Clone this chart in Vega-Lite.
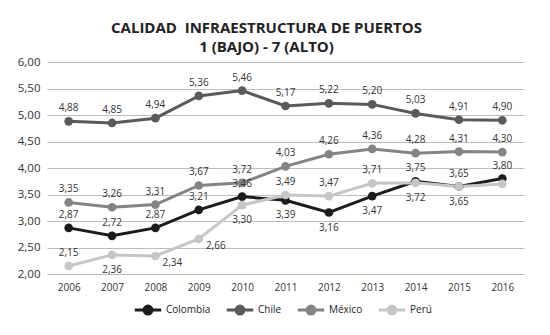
{
  "$schema": "https://vega.github.io/schema/vega-lite/v6.json",
  "width": 477,
  "height": 212,
  "autosize": "none",
  "padding": {"left": 47, "top": 62, "right": 26, "bottom": 61},
  "background": "white",
  "config": {
    "font": "Open Sans",
    "view": {"stroke": null},
    "locale": {"number": {"decimal": ",", "thousands": ".", "grouping": [3], "currency": ["", ""]}}
  },
  "title": {
    "text": ["CALIDAD\u00a0\u00a0INFRAESTRUCTURA DE PUERTOS", "1 (BAJO) - 7 (ALTO)"],
    "fontSize": 15,
    "fontWeight": "bold",
    "color": "#222222",
    "anchor": "middle",
    "frame": "group",
    "dx": -19,
    "offset": 1,
    "lineHeight": 19
  },
  "data": {
    "values": [
      {"pais": "Colombia", "anio": "2006", "valor": 2.87},
      {"pais": "Colombia", "anio": "2007", "valor": 2.72},
      {"pais": "Colombia", "anio": "2008", "valor": 2.87},
      {"pais": "Colombia", "anio": "2009", "valor": 3.21},
      {"pais": "Colombia", "anio": "2010", "valor": 3.46},
      {"pais": "Colombia", "anio": "2011", "valor": 3.39},
      {"pais": "Colombia", "anio": "2012", "valor": 3.16},
      {"pais": "Colombia", "anio": "2013", "valor": 3.47},
      {"pais": "Colombia", "anio": "2014", "valor": 3.75},
      {"pais": "Colombia", "anio": "2015", "valor": 3.65},
      {"pais": "Colombia", "anio": "2016", "valor": 3.80},
      {"pais": "Chile", "anio": "2006", "valor": 4.88},
      {"pais": "Chile", "anio": "2007", "valor": 4.85},
      {"pais": "Chile", "anio": "2008", "valor": 4.94},
      {"pais": "Chile", "anio": "2009", "valor": 5.36},
      {"pais": "Chile", "anio": "2010", "valor": 5.46},
      {"pais": "Chile", "anio": "2011", "valor": 5.17},
      {"pais": "Chile", "anio": "2012", "valor": 5.22},
      {"pais": "Chile", "anio": "2013", "valor": 5.20},
      {"pais": "Chile", "anio": "2014", "valor": 5.03},
      {"pais": "Chile", "anio": "2015", "valor": 4.91},
      {"pais": "Chile", "anio": "2016", "valor": 4.90},
      {"pais": "México", "anio": "2006", "valor": 3.35},
      {"pais": "México", "anio": "2007", "valor": 3.26},
      {"pais": "México", "anio": "2008", "valor": 3.31},
      {"pais": "México", "anio": "2009", "valor": 3.67},
      {"pais": "México", "anio": "2010", "valor": 3.72},
      {"pais": "México", "anio": "2011", "valor": 4.03},
      {"pais": "México", "anio": "2012", "valor": 4.26},
      {"pais": "México", "anio": "2013", "valor": 4.36},
      {"pais": "México", "anio": "2014", "valor": 4.28},
      {"pais": "México", "anio": "2015", "valor": 4.31},
      {"pais": "México", "anio": "2016", "valor": 4.30},
      {"pais": "Perú", "anio": "2006", "valor": 2.15},
      {"pais": "Perú", "anio": "2007", "valor": 2.36},
      {"pais": "Perú", "anio": "2008", "valor": 2.34},
      {"pais": "Perú", "anio": "2009", "valor": 2.66},
      {"pais": "Perú", "anio": "2010", "valor": 3.30},
      {"pais": "Perú", "anio": "2011", "valor": 3.49},
      {"pais": "Perú", "anio": "2012", "valor": 3.47},
      {"pais": "Perú", "anio": "2013", "valor": 3.71},
      {"pais": "Perú", "anio": "2014", "valor": 3.72},
      {"pais": "Perú", "anio": "2015", "valor": 3.65},
      {"pais": "Perú", "anio": "2016", "valor": 3.70}
    ]
  },
  "encoding": {
    "x": {
      "field": "anio",
      "type": "ordinal",
      "scale": {"type": "point", "padding": 0.5},
      "axis": {
        "title": null,
        "labelAngle": 0,
        "ticks": false,
        "domain": false,
        "grid": false,
        "labelFontSize": 10,
        "labelColor": "#333333",
        "labelPadding": 8
      }
    },
    "y": {
      "field": "valor",
      "type": "quantitative",
      "scale": {"domain": [2, 6], "nice": false, "zero": false},
      "axis": {
        "title": null,
        "values": [2, 2.5, 3, 3.5, 4, 4.5, 5, 5.5, 6],
        "format": ".2f",
        "ticks": false,
        "domain": false,
        "gridColor": "#bdbdbd",
        "gridWidth": 1.2,
        "labelFontSize": 11.5,
        "labelColor": "#333333",
        "labelPadding": 7
      }
    }
  },
  "layer": [
    {
      "mark": {"type": "line", "strokeWidth": 3, "point": {"filled": true, "size": 75, "opacity": 1}},
      "encoding": {
        "color": {
          "field": "pais",
          "type": "nominal",
          "scale": {
            "domain": ["Colombia", "Chile", "México", "Perú"],
            "range": ["#1c1c1c", "#5a5a5a", "#848484", "#c6c6c6"]
          },
          "legend": {
            "title": null,
            "orient": "none",
            "direction": "horizontal",
            "legendX": 86,
            "legendY": 233,
            "symbolType": "M-1,0H1M0.3,0A0.3,0.3,0,1,1,-0.3,0A0.3,0.3,0,1,1,0.3,0Z",
            "symbolSize": 700,
            "symbolStrokeWidth": 3,
            "labelFontSize": 10,
            "labelColor": "#222222",
            "labelOffset": 3,
            "columnPadding": 9,
            "encode": {
              "symbols": {
                "update": {
                  "fill": {"scale": "color", "field": "value"},
                  "stroke": {"scale": "color", "field": "value"},
                  "opacity": {"value": 1}
                }
              }
            }
          }
        }
      }
    },
    {
      "transform": [
        {"filter": "!((datum.pais == 'Colombia' && indexof(['2011','2012','2013'], datum.anio) >= 0) || (datum.pais == 'Perú' && indexof(['2007','2008','2009','2010','2014','2015','2016'], datum.anio) >= 0))"}
      ],
      "mark": {"type": "text", "fontSize": 10, "color": "#333333", "baseline": "middle", "dy": -13},
      "encoding": {"text": {"field": "valor", "type": "quantitative", "format": ".2f"}}
    },
    {
      "transform": [
        {"filter": "(datum.pais == 'Colombia' && indexof(['2011','2012','2013'], datum.anio) >= 0) || (datum.pais == 'Perú' && indexof(['2007','2010','2014','2015'], datum.anio) >= 0)"}
      ],
      "mark": {"type": "text", "fontSize": 10, "color": "#333333", "baseline": "middle", "dy": 15},
      "encoding": {"text": {"field": "valor", "type": "quantitative", "format": ".2f"}}
    },
    {
      "transform": [
        {"filter": "datum.pais == 'Perú' && indexof(['2008','2009'], datum.anio) >= 0"}
      ],
      "mark": {"type": "text", "fontSize": 10, "color": "#333333", "baseline": "middle", "dx": 17, "dy": 7},
      "encoding": {"text": {"field": "valor", "type": "quantitative", "format": ".2f"}}
    }
  ]
}
